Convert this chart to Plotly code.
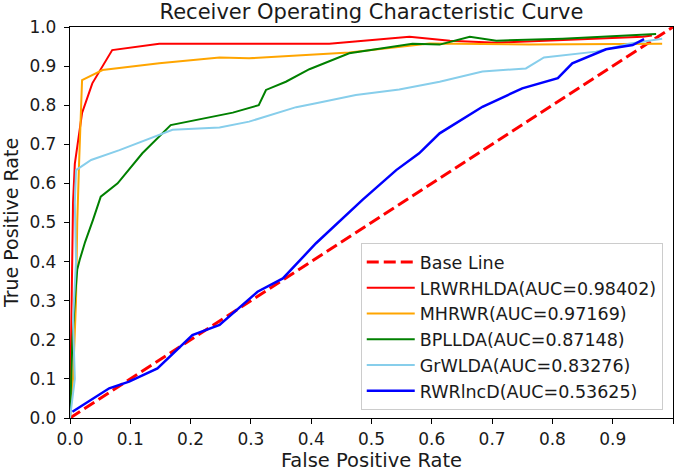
import plotly.graph_objects as go

base_x = [0.0, 1.0]
base_y = [0.0, 1.0]

lrw_x = [0.0, 0.003, 0.005, 0.008, 0.015, 0.02, 0.037, 0.07, 0.148, 0.43, 0.563, 0.63, 0.707, 0.95, 0.965]
lrw_y = [0.0, 0.3, 0.55, 0.65, 0.72, 0.78, 0.856, 0.941, 0.957, 0.957, 0.975, 0.965, 0.96, 0.975, 0.978]

mhr_x = [0.0, 0.005, 0.01, 0.012, 0.015, 0.018, 0.02, 0.054, 0.148, 0.248, 0.297, 0.463, 0.596, 0.762, 0.982]
mhr_y = [0.0, 0.1, 0.3, 0.5, 0.65, 0.78, 0.864, 0.89, 0.907, 0.922, 0.92, 0.935, 0.958, 0.955, 0.957]

bpl_x = [0.0, 0.002, 0.004, 0.008, 0.012, 0.016, 0.025, 0.038, 0.051, 0.079, 0.12, 0.167, 0.248, 0.27, 0.313, 0.325, 0.358, 0.397, 0.463, 0.568, 0.613, 0.663, 0.707, 0.817, 0.972]
bpl_y = [0.0, 0.1, 0.2, 0.3, 0.38, 0.404, 0.45, 0.506, 0.566, 0.6, 0.677, 0.749, 0.775, 0.781, 0.8, 0.839, 0.86, 0.892, 0.933, 0.957, 0.955, 0.975, 0.965, 0.97, 0.982]

grw_x = [0.0, 0.008, 0.005, 0.01, 0.008, 0.01, 0.035, 0.082, 0.17, 0.248, 0.297, 0.375, 0.408, 0.474, 0.546, 0.613, 0.684, 0.756, 0.786, 0.872, 0.927, 0.982]
grw_y = [0.0, 0.1, 0.25, 0.4, 0.55, 0.634, 0.66, 0.685, 0.737, 0.743, 0.758, 0.795, 0.805, 0.826, 0.84, 0.86, 0.886, 0.894, 0.922, 0.937, 0.957, 0.97]

rwr_x = [0.004, 0.065, 0.098, 0.145, 0.203, 0.248, 0.311, 0.353, 0.408, 0.485, 0.541, 0.579, 0.613, 0.684, 0.75, 0.809, 0.833, 0.889, 0.933, 0.952]
rwr_y = [0.016, 0.076, 0.093, 0.127, 0.212, 0.238, 0.323, 0.357, 0.447, 0.558, 0.634, 0.677, 0.728, 0.796, 0.843, 0.869, 0.907, 0.943, 0.954, 0.969]

fig = go.Figure()
fig.add_trace(go.Scatter(x=base_x, y=base_y, mode="lines", name="Base Line",
                         line=dict(color="red", width=3, dash="12px,5px")))
fig.add_trace(go.Scatter(x=lrw_x, y=lrw_y, mode="lines", name="LRWRHLDA(AUC=0.98402)",
                         line=dict(color="red", width=2)))
fig.add_trace(go.Scatter(x=mhr_x, y=mhr_y, mode="lines", name="MHRWR(AUC=0.97169)",
                         line=dict(color="orange", width=2)))
fig.add_trace(go.Scatter(x=bpl_x, y=bpl_y, mode="lines", name="BPLLDA(AUC=0.87148)",
                         line=dict(color="green", width=2)))
fig.add_trace(go.Scatter(x=grw_x, y=grw_y, mode="lines", name="GrWLDA(AUC=0.83276)",
                         line=dict(color="skyblue", width=2)))
fig.add_trace(go.Scatter(x=rwr_x, y=rwr_y, mode="lines", name="RWRlncD(AUC=0.53625)",
                         line=dict(color="blue", width=2.5)))

axis_common = dict(range=[0, 1], dtick=0.1, tickformat=".1f", showgrid=False, zeroline=False,
                   showline=True, linecolor="black", linewidth=1.3, mirror=True,
                   ticks="outside", ticklen=5, tickcolor="black", automargin=False,
                   tickfont=dict(family="DejaVu Sans", size=17, color="#1a1a1a"))

fig.update_layout(
    width=685, height=473,
    margin=dict(l=70, r=12, t=27, b=55),
    paper_bgcolor="white", plot_bgcolor="white",
    font=dict(family="DejaVu Sans", color="#1a1a1a"),
    title=dict(text="Receiver Operating Characteristic Curve", xref="paper", x=0.5, xanchor="center",
               yref="container", y=0.991, yanchor="top",
               font=dict(family="DejaVu Sans", size=21, color="#1a1a1a")),
    xaxis=dict(title=dict(text="False Positive Rate", font=dict(size=19.5), standoff=2), **axis_common),
    yaxis=dict(title=dict(text="True Positive Rate", font=dict(size=19), standoff=5),
               ticklabelstandoff=4, **axis_common),
    legend=dict(x=0.983, y=0.02, xanchor="right", yanchor="bottom",
                bgcolor="rgba(255,255,255,0.8)", bordercolor="#cccccc", borderwidth=1,
                font=dict(family="DejaVu Sans", size=17.5, color="#1a1a1a"),
                tracegroupgap=0, itemwidth=48),
    showlegend=True,
)

fig.write_html("out.html", config={"displayModeBar": False},
               post_script="document.body.style.margin='0';")
